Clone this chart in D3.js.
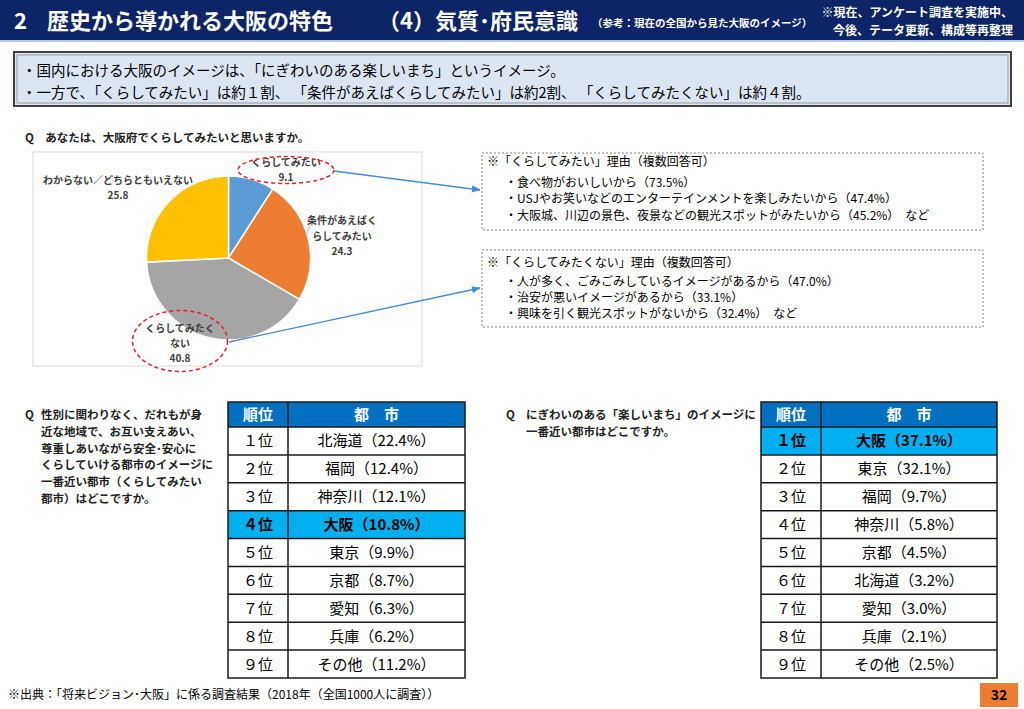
<!DOCTYPE html>
<html><head><meta charset="utf-8">
<script src="https://cdn.jsdelivr.net/npm/d3@7"></script>
<style>
html,body{margin:0;padding:0;background:#fff;}
svg{display:block;font-family:"Noto Sans CJK JP","Noto Sans",sans-serif;}
</style></head>
<body>
<svg id="c" width="1024" height="709"></svg>
<script>
// ---- data ----
const pieLabels = ["くらしてみたい", "条件があえばくらしてみたい", "くらしてみたくない", "わからない／どちらともいえない"];
const pieValues = [9.1, 24.3, 40.8, 25.8];
const pieColors = ["#5b9bd5", "#ed7d31", "#a5a5a5", "#ffc000"];

const rankLabels = ["１位", "２位", "３位", "４位", "５位", "６位", "７位", "８位", "９位"];
const citiesLiving = ["北海道", "福岡", "神奈川", "大阪", "東京", "京都", "愛知", "兵庫", "その他"];
const pctLiving = [22.4, 12.4, 12.1, 10.8, 9.9, 8.7, 6.3, 6.2, 11.2];
const citiesFun = ["大阪", "東京", "福岡", "神奈川", "京都", "北海道", "愛知", "兵庫", "その他"];
const pctFun = [37.1, 32.1, 9.7, 5.8, 4.5, 3.2, 3.0, 2.1, 2.5];
const tableHeaders = ["順位", "都　市"];

const reasonsWant = ["※「くらしてみたい」理由（複数回答可）", "・食べ物がおいしいから（73.5%）", "・USJやお笑いなどのエンターテインメントを楽しみたいから（47.4%）", "・大阪城、川辺の景色、夜景などの観光スポットがみたいから（45.2%）　など"];
const reasonsNot = ["※「くらしてみたくない」理由（複数回答可）", "・人が多く、ごみごみしているイメージがあるから（47.0%）", "・治安が悪いイメージがあるから（33.1%）", "・興味を引く観光スポットがないから（32.4%）　など"];

const svg = d3.select("#c");

// ---- header ----
svg.append("rect").attr("x", 0).attr("y", 0).attr("width", 1024).attr("height", 40).attr("fill", "#0d2466");
svg.append("rect").attr("x", 0).attr("y", 40).attr("width", 1024).attr("height", 2).attr("fill", "#b8cce4");
svg.append("text").attr("x", 14).attr("y", 29).attr("fill", "#fff").attr("font-size", 22).attr("font-weight", 700).text("2");
svg.append("text").attr("x", 47).attr("y", 29).attr("fill", "#fff").attr("font-size", 22).attr("font-weight", 700).text("歴史から導かれる大阪の特色");
svg.append("text").attr("x", 378).attr("y", 29).attr("fill", "#fff").attr("font-size", 22).attr("font-weight", 700).text("（4）気質･府民意識");
svg.append("text").attr("x", 592).attr("y", 27).attr("fill", "#fff").attr("font-size", 10.5).attr("font-weight", 700).text("（参考：現在の全国から見た大阪のイメージ）");
svg.append("text").attr("x", 1013).attr("y", 17).attr("text-anchor", "end").attr("fill", "#fff").attr("font-size", 12).attr("font-weight", 700).text("※現在、アンケート調査を実施中、");
svg.append("text").attr("x", 1013).attr("y", 35).attr("text-anchor", "end").attr("fill", "#fff").attr("font-size", 12).attr("font-weight", 700).text("今後、テータ更新、構成等再整理");

// ---- summary box ----
svg.append("rect").attr("x", 14).attr("y", 52).attr("width", 997).attr("height", 54).attr("fill", "#dce6f2").attr("stroke", "#404040").attr("stroke-width", 2);
svg.append("rect").attr("x", 17).attr("y", 55).attr("width", 991).attr("height", 48).attr("fill", "none").attr("stroke", "#9a9a9a").attr("stroke-width", 1);
svg.append("text").attr("x", 22).attr("y", 76).attr("font-size", 14.5).attr("fill", "#000").text("・国内における大阪のイメージは、「にぎわいのある楽しいまち」というイメージ。");
svg.append("text").attr("x", 22).attr("y", 98).attr("font-size", 14.5).attr("fill", "#000").text("・一方で、「くらしてみたい」は約１割、 「条件があえばくらしてみたい」は約2割、 「くらしてみたくない」は約４割。");

// ---- pie question ----
svg.append("text").attr("x", 25).attr("y", 142).attr("font-size", 11.5).attr("font-weight", 700).attr("fill", "#222").text("Q　あなたは、大阪府でくらしてみたいと思いますか。");

// chart frame
svg.append("rect").attr("x", 33).attr("y", 152).attr("width", 389).attr("height", 214).attr("fill", "#fff").attr("stroke", "#d9d9d9").attr("stroke-width", 1);

const cx = 228.5, cy = 258, R = 82;
const pie = d3.pie().sort(null).value(d => d)(pieValues);
const arc = d3.arc().innerRadius(0).outerRadius(R);
const pg = svg.append("g").attr("transform", `translate(${cx},${cy})`);
pg.selectAll("path").data(pie).join("path")
  .attr("d", arc).attr("fill", (d, i) => pieColors[i]).attr("stroke", "#fff").attr("stroke-width", 1.5);

// pie labels
const lblStyle = s => s.attr("font-size", 10).attr("font-weight", 700).attr("fill", "#404040").attr("text-anchor", "middle");
function multiLabel(x, y, lines, lh) {
  lines.forEach((t, i) => svg.append("text").attr("x", x).attr("y", y + i * lh).call(lblStyle).text(t));
}
multiLabel(286, 166, ["くらしてみたい", String(pieValues[0])], 15);
multiLabel(342, 224, ["条件があえばく", "らしてみたい", String(pieValues[1])], 15.5);
multiLabel(180, 332, ["くらしてみたく", "ない", String(pieValues[2])], 15);
multiLabel(118, 184, ["わからない／どちらともいえない", String(pieValues[3])], 15);
// small leader line for orange label
svg.append("path").attr("d", "M313,224 L310,226 L306,236").attr("fill", "none").attr("stroke", "#bfbfbf").attr("stroke-width", 1);

// red dashed ellipses
svg.append("ellipse").attr("cx", 286).attr("cy", 170).attr("rx", 48).attr("ry", 13.5)
  .attr("fill", "none").attr("stroke", "#e0202a").attr("stroke-width", 1.5).attr("stroke-dasharray", "4,3");
svg.append("ellipse").attr("cx", 180).attr("cy", 341).attr("rx", 47.5).attr("ry", 30.5)
  .attr("fill", "none").attr("stroke", "#e0202a").attr("stroke-width", 1.5).attr("stroke-dasharray", "4,3");

// arrows
const defs = svg.append("defs");
defs.append("marker").attr("id", "ah").attr("viewBox", "0 0 10 10").attr("refX", 9).attr("refY", 5)
  .attr("markerWidth", 7).attr("markerHeight", 7).attr("orient", "auto")
  .append("path").attr("d", "M0,1 L10,5 L0,9 z").attr("fill", "#4a8bd0");
svg.append("line").attr("x1", 334).attr("y1", 171).attr("x2", 480).attr("y2", 190)
  .attr("stroke", "#4a8bd0").attr("stroke-width", 1.3).attr("marker-end", "url(#ah)");
svg.append("line").attr("x1", 229).attr("y1", 342).attr("x2", 480).attr("y2", 288)
  .attr("stroke", "#4a8bd0").attr("stroke-width", 1.3).attr("marker-end", "url(#ah)");

// reason boxes
function reasonBox(y0, h, lines, ys) {
  svg.append("rect").attr("x", 482).attr("y", y0).attr("width", 501).attr("height", h)
    .attr("fill", "#fff").attr("stroke", "#808080").attr("stroke-width", 1).attr("stroke-dasharray", "2,2");
  lines.forEach((t, i) => svg.append("text").attr("x", i === 0 ? 487 : 505).attr("y", ys[i])
    .attr("font-size", 12).attr("fill", "#000").text(t));
}
reasonBox(153, 77, reasonsWant, [166, 187, 203, 220]);
reasonBox(250, 77, reasonsNot, [267, 286, 302, 318]);

// ---- question texts ----
const q1 = ["性別に関わりなく、だれもが身", "近な地域で、お互い支えあい、", "尊重しあいながら安全･安心に", "くらしていける都市のイメージに", "一番近い都市（くらしてみたい", "都市）はどこですか。"];
svg.append("text").attr("x", 25).attr("y", 419).attr("font-size", 11.5).attr("font-weight", 700).attr("fill", "#222").text("Q");
q1.forEach((t, i) => svg.append("text").attr("x", 41).attr("y", 419 + i * 16.8).attr("font-size", 11.5).attr("font-weight", 700).attr("fill", "#222").text(t));
const q2 = ["にぎわいのある「楽しいまち」のイメージに", "一番近い都市はどこですか。"];
svg.append("text").attr("x", 506).attr("y", 419).attr("font-size", 11.5).attr("font-weight", 700).attr("fill", "#222").text("Q");
q2.forEach((t, i) => svg.append("text").attr("x", 526).attr("y", 419 + i * 16.8).attr("font-size", 11.5).attr("font-weight", 700).attr("fill", "#222").text(t));

// ---- tables ----
function drawTable(x0, xDiv, x1, cities, pcts, hiIndex) {
  const yTop = 402, yHeadBottom = 427, yBottom = 678;
  const y = d3.scaleBand().domain(d3.range(cities.length)).range([yHeadBottom, yBottom]).paddingInner(0);
  const g = svg.append("g");
  // header
  g.append("rect").attr("x", x0).attr("y", yTop).attr("width", x1 - x0).attr("height", yHeadBottom - yTop).attr("fill", "#0070c0");
  g.append("text").attr("x", (x0 + xDiv) / 2).attr("y", (yTop + yHeadBottom) / 2 + 5.5).attr("text-anchor", "middle")
    .attr("font-size", 15).attr("font-weight", 700).attr("fill", "#fff").text(tableHeaders[0]);
  g.append("text").attr("x", (xDiv + x1) / 2).attr("y", (yTop + yHeadBottom) / 2 + 5.5).attr("text-anchor", "middle")
    .attr("font-size", 15).attr("font-weight", 700).attr("fill", "#fff").text(tableHeaders[1]);
  // rows
  const rows = g.selectAll("g.row").data(cities.map((c, i) => ({ c, p: pcts[i], i }))).join("g").attr("class", "row");
  rows.append("rect").attr("x", x0).attr("y", d => y(d.i)).attr("width", x1 - x0).attr("height", y.bandwidth())
    .attr("fill", d => d.i === hiIndex ? "#00b0f0" : "#fff");
  rows.append("text").attr("x", (x0 + xDiv) / 2).attr("y", d => y(d.i) + y.bandwidth() / 2 + 5.5).attr("text-anchor", "middle")
    .attr("font-size", 15).attr("font-weight", d => d.i === hiIndex ? 700 : 400).attr("fill", "#000")
    .text(d => rankLabels[d.i]);
  rows.append("text").attr("x", (xDiv + x1) / 2).attr("y", d => y(d.i) + y.bandwidth() / 2 + 5.5).attr("text-anchor", "middle")
    .attr("font-size", 15).attr("font-weight", d => d.i === hiIndex ? 700 : 400).attr("fill", "#000")
    .text(d => `${d.c}（${d.p.toFixed(1)}%）`);
  // grid lines
  d3.range(cities.length).forEach(i => g.append("line").attr("x1", x0).attr("x2", x1).attr("y1", y(i)).attr("y2", y(i))
    .attr("stroke", "#1a1a1a").attr("stroke-width", 1.5));
  g.append("line").attr("x1", xDiv).attr("x2", xDiv).attr("y1", yTop).attr("y2", yBottom).attr("stroke", "#1a1a1a").attr("stroke-width", 1.5);
  g.append("rect").attr("x", x0).attr("y", yTop).attr("width", x1 - x0).attr("height", yBottom - yTop)
    .attr("fill", "none").attr("stroke", "#1a1a1a").attr("stroke-width", 1.5);
}
drawTable(228, 288, 465, citiesLiving, pctLiving, citiesLiving.indexOf("大阪"));
drawTable(761, 821, 997, citiesFun, pctFun, citiesFun.indexOf("大阪"));

// ---- footer ----
svg.append("text").attr("x", 8).attr("y", 699).attr("font-size", 12).attr("fill", "#000").text("※出典：「将来ビジョン･大阪」に係る調査結果（2018年（全国1000人に調査））");
svg.append("rect").attr("x", 980).attr("y", 683).attr("width", 38).attr("height", 24).attr("fill", "#ed7d31");
svg.append("text").attr("x", 999).attr("y", 700).attr("text-anchor", "middle").attr("font-size", 14).attr("font-weight", 700).attr("fill", "#000").text("32");
</script>
</body></html>
